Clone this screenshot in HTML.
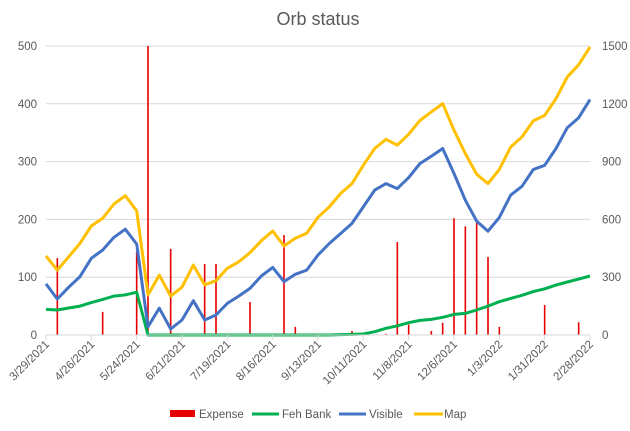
<!DOCTYPE html>
<html><head><meta charset="utf-8"><style>
html,body{margin:0;padding:0;background:#fff;}
svg{display:block;font-family:"Liberation Sans",sans-serif;}
</style></head><body>
<svg id="chart" width="630" height="431" viewBox="0 0 630 431" xmlns="http://www.w3.org/2000/svg">
<rect width="630" height="431" fill="#fff"/>
<text x="318" y="25" text-anchor="middle" font-size="18" fill="#595959">Orb status</text>
<g id="grid"></g><g id="bars"></g><g id="lines"></g><g id="axes"></g>
<g>
<rect x="170" y="410" width="25" height="7" fill="#e60000"/>
<text x="199" y="418" font-size="11.5" fill="#595959">Expense</text>
<line x1="252" y1="414" x2="279" y2="414" stroke="#00b050" stroke-width="3"/>
<text x="282" y="418" font-size="11.5" fill="#595959">Feh Bank</text>
<line x1="339" y1="414" x2="366" y2="414" stroke="#4472c4" stroke-width="3"/>
<text x="369" y="418" font-size="11.5" fill="#595959">Visible</text>
<line x1="414" y1="414" x2="443" y2="414" stroke="#ffc000" stroke-width="3"/>
<text x="444" y="418" font-size="11.5" fill="#595959">Map</text>
</g>
</svg>
<script>
const tickLabels = ["3/29/2021","4/26/2021","5/24/2021","6/21/2021","7/19/2021","8/16/2021","9/13/2021","10/11/2021","11/8/2021","12/6/2021","1/3/2022","1/31/2022","2/28/2022"];
const leftTicks = [0,100,200,300,400,500];
const rightTicks = [0,300,600,900,1200,1500];
const expense = [0,133,0,0,0,40,0,0,144,500,0,149,0,0,123,123,0,0,57,0,0,173,14,0,0,0,0,7,0,0,2,161,18,0,7,21,202,188,194,135,14,0,0,0,52,0,0,22,0];
const fehBank = [133,130,140,150,168,185,202,208,222,0,0,0,0,0,0,0,0,0,0,0,0,0,0,0,0,0,2,3,5,17,35,48,64,76,81,92,107,112,130,150,173,190,206,225,240,259,275,290,306];
const visible = [265,187,248,303,398,441,507,549,472,43,139,31,78,178,78,104,164,202,242,306,351,277,315,337,415,475,527,579,665,752,786,760,817,890,928,968,838,700,591,539,610,726,772,859,881,968,1076,1128,1222];
const mapVals = [410,337,406,476,566,606,680,723,644,208,311,202,248,363,260,282,346,380,427,489,540,462,502,528,611,665,735,786,881,968,1016,985,1042,1114,1158,1201,1063,942,834,786,859,976,1028,1111,1140,1227,1339,1403,1495];

const NS="http://www.w3.org/2000/svg";
const L=46,R=590,T=46,B=335,N=fehBank.length;
const xAt=i=>L+i*(R-L)/(N-1);
const yL=v=>B-(Math.min(v,500)/500)*(B-T);
const yR=v=>B-(v/1500)*(B-T);
function mk(tag,parent){const e=document.createElementNS(NS,tag);document.getElementById(parent).appendChild(e);return e;}

leftTicks.forEach((v,k)=>{
  const y=yL(v);
  if(v>0){const g=mk('line','grid');
    
    
    g.setAttribute('x1',L);g.setAttribute('x2',R);g.setAttribute('y1',y);g.setAttribute('y2',y);g.setAttribute('stroke','#d9d9d9');g.setAttribute('stroke-width','1');}
  const t=mk('text','axes');
  
  
  t.setAttribute('x',37);t.setAttribute('y',y+4);t.setAttribute('text-anchor','end');t.setAttribute('font-size','11.5');t.setAttribute('fill','#595959');t.textContent=v;
});
rightTicks.forEach(v=>{
  const t=mk('text','axes');
  
  
  t.setAttribute('x',602);t.setAttribute('y',yR(v)+4);t.setAttribute('font-size','11.5');t.setAttribute('fill','#595959');t.textContent=v;
});
const ax=mk('line','axes');


ax.setAttribute('x1',L);ax.setAttribute('x2',R);ax.setAttribute('y1',B);ax.setAttribute('y2',B);ax.setAttribute('stroke','#d9d9d9');
tickLabels.forEach((s,k)=>{
  const x=xAt(k*4);
  const tk=mk('line','axes');
  
  
  tk.setAttribute('x1',x);tk.setAttribute('x2',x);tk.setAttribute('y1',B);tk.setAttribute('y2',B+5);tk.setAttribute('stroke','#d9d9d9');
  const t=mk('text','axes');
  
  
  t.setAttribute('x',x+4);t.setAttribute('y',B+10);t.setAttribute('text-anchor','end');t.setAttribute('font-size','11.5');t.setAttribute('fill','#595959');
  t.setAttribute('transform','rotate(-45 '+(x+4)+' '+(B+10)+')');t.textContent=s;
});
expense.forEach((v,i)=>{
  if(v<=0)return;
  const r=mk('rect','bars');
  
  
  const y=yL(v);
  r.setAttribute('x',xAt(i)-0.8);r.setAttribute('y',y);r.setAttribute('width',1.6);r.setAttribute('height',B-y);r.setAttribute('fill','#e60000');
});
[[fehBank,'#00b050','feh-bank-line'],[visible,'#4472c4','visible-line'],[mapVals,'#ffc000','map-line']].forEach(([d,c,n])=>{
  const p=mk('polyline','lines');
  
  
  p.setAttribute('points',d.map((v,i)=>xAt(i).toFixed(1)+','+yR(v).toFixed(1)).join(' '));
  p.setAttribute('fill','none');p.setAttribute('stroke',c);p.setAttribute('stroke-width','3');p.setAttribute('stroke-linejoin','round');
});
</script>
</body></html>
